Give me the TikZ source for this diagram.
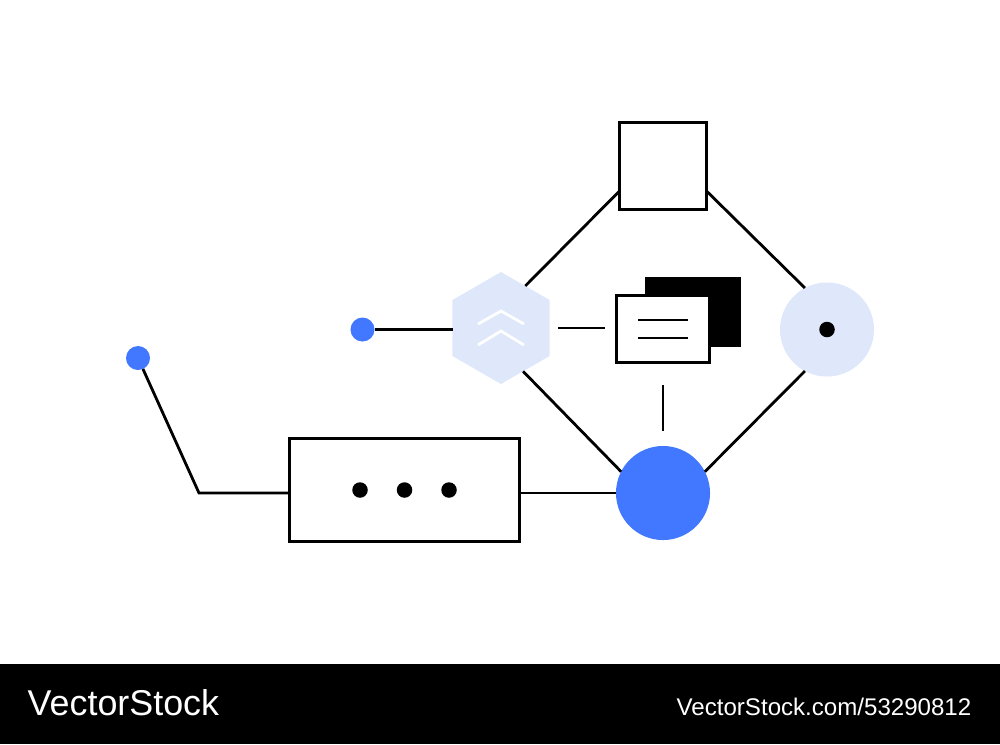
\documentclass[tikz,border=0pt]{standalone}
\usepackage{fontspec}
\setmainfont{Liberation Sans}
\usetikzlibrary{calc, shapes.geometric}

\definecolor{accent}{HTML}{4178FF}
\definecolor{pale}{HTML}{DEE8FA}

\tikzset{
	wire/.style = {line width = 0.028cm, black},
	outlined/.style = {draw, wire, fill = white, rectangle, inner sep = 0, outer sep = 0},
	disc/.style = {circle, inner sep = 0, outer sep = 0, minimum size = #1},
	chevron/.style = {line width = 0.028cm, white}
}

\begin{document}
\begin{tikzpicture}[x = 0.01cm, y = -0.01cm]
		\useasboundingbox (0,0) rectangle (1000,744);
		
		% footer strip
		\fill [black] (0,664) rectangle (1000,744);
		\node [white, anchor = base west, inner sep = 0, font = \fontsize{10.2pt}{12pt}\selectfont] (brand) at (27,715) {VectorStock};
		\node [white, anchor = base east, inner sep = 0, font = \fontsize{6.85pt}{8pt}\selectfont] (stock id) at (972,715) {VectorStock.com/53290812};
		
		\node [outlined, minimum width = 0.875cm, minimum height = 0.875cm] (square) at (663,166) {};
		\node [regular polygon, regular polygon sides = 6, shape border rotate = 30, fill = pale, inner sep = 0, outer sep = 0, minimum size = 1.12cm] (hexagon) at (501,328) {};
		\node [disc = 0.94cm, fill = pale] (target) at (827,329.5) {};
		\node [disc = 0.94cm, fill = accent] (hub) at (663,493) {};
		\node [outlined, minimum width = 2.30cm, minimum height = 1.03cm] (tray) at (404.5,490) {};
		\node [disc = 0.24cm, fill = accent] (far dot) at (138,358) {};
		\node [disc = 0.24cm, fill = accent] (near dot) at (362.5,329.5) {};
		\node [disc = 0.155cm, fill = black] (target dot) at (827,329.5) {};
		
		\foreach \name/\x in {first/360, second/404.5, third/449}
			\node [disc = 0.155cm, fill = black] (\name) at (\x,490) {};
		
		% stacked cards
		\node [rectangle, fill = black, inner sep = 0, minimum width = 0.96cm, minimum height = 0.70cm] (back card) at (693,312) {};
		\node [outlined, minimum width = 0.935cm, minimum height = 0.665cm] (front card) at (663,329) {};
		\coordinate (text one left) at (638,320);
		\coordinate (text one right) at (688,320);
		\coordinate (text two left) at (638,338);
		\coordinate (text two right) at (688,338);
		\draw [wire] (text one left) -- (text one right);
		\draw [wire] (text two left) -- (text two right);
		
		% chevrons on the hexagon
		\draw [chevron] (478,324) -- (501,311) -- (524,324);
		\draw [chevron] (478,345) -- (501,331) -- (524,345);
		
		% diamond
		\draw [wire] (hexagon.60) -- (square.210);
		\draw [wire] (square.330) -- (target.118);
		\draw [wire] (target.242) -- (hub.27);
		\draw [wire] (hexagon.297) -- (hub.153);
		
		% loose ticks
		\coordinate (tick right start) at (558,328);
		\coordinate (tick right end) at (605,328);
		\coordinate (tick down start) at (663,385);
		\coordinate (tick down end) at (663,431);
		\draw [wire] (tick right start) -- (tick right end);
		\draw [wire] (tick down start) -- (tick down end);
		
		\coordinate (hexagon left) at (453,329.5);
		\draw [wire] (near dot) -- (hexagon left);
		\draw [wire] (tray.east |- hub.west) -- (hub.west);
		
		\coordinate (elbow) at (199,493);
		\draw [wire] (far dot) -- (elbow) -- (tray.west |- elbow);
	\end{tikzpicture}
\end{document}
